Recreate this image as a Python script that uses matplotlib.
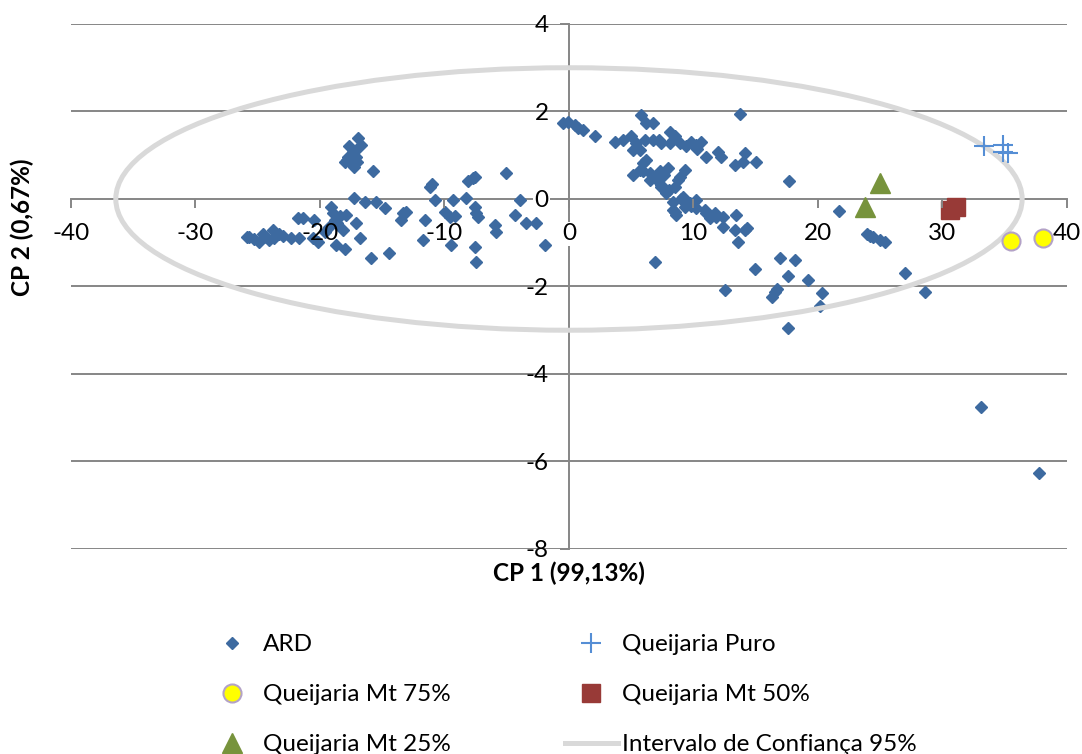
import matplotlib
matplotlib.use("Agg")
import matplotlib.pyplot as plt
from matplotlib.patches import Ellipse
from matplotlib.lines import Line2D

plt.rcParams['font.family'] = ['Lato', 'DejaVu Sans']
plt.rcParams['axes.unicode_minus'] = False

# ARD scores (CP1, CP2)
ard_x = [-25.9, -25.67, -25.27, -24.87, -24.6, -24.33, -24.06, -23.8, -23.66, -23.26,
         -23.0, -22.31, -21.65, -21.78, -21.38, -20.44, -20.58, -20.18, -19.1, -18.97,
         -18.43, -17.9, -18.83, -19.24, -18.17, -17.09, -16.82, -18.7, -18.03, -15.88,
         -14.49, -18.6, -19.6,
         -16.96, -16.69, -17.63, -17.36, -17.77, -17.09, -18.03, -17.49, -17.23, -15.76,
         -17.2, -17.8, -17.0,
         -17.23, -16.42, -15.48, -14.81, -11.0, -13.34, -13.47, -13.07, -11.6, -11.73,
         -11.2, -10.8, -9.99, -9.59, -9.32, -9.19, -9.45, -8.25, -8.12, -7.72, -7.58,
         -7.58, -7.44, -7.31, -7.58, -7.44, -5.97, -5.84, -5.03, -4.36, -3.96, -3.42,
         -2.62, -1.95,
         -0.48, -0.08, 0.46, 0.72, 1.13, 2.07, 3.67, 4.34, 5.0, 5.8, 6.2, 6.75, 5.42,
         6.08, 6.75, 5.14, 5.68, 8.09, 8.5, 7.42, 8.09, 8.9, 9.84, 10.24, 10.64, 11.04,
         11.98, 12.25, 14.12, 13.32, 13.99, 15.06, 13.72, 7.2, 9.4, 10.3,
         5.14, 5.95, 5.95, 6.49, 7.29, 7.96, 7.42, 7.83, 9.3, 8.76, 8.5, 9.16, 8.36,
         8.63, 9.7, 10.24, 10.9, 11.71, 12.38, 13.45, 11.3, 5.68, 6.49, 7.42, 8.36, 8.5,
         9.3, 10.24, 11.04, 11.85, 12.38, 13.32, 14.12, 13.59, 8.9, 14.26, 6.2, 7.0, 8.0,
         9.0, 9.8, 7.6,
         6.89, 16.94, 17.7, 21.7, 23.9, 24.4, 24.98, 25.4, 24.2, 14.93, 18.14, 17.6,
         19.2, 20.29, 20.15, 16.54, 16.27, 16.7, 12.52, 17.6, 26.98, 28.6, 33.1, 37.78]
ard_y = [-0.88, -0.86, -0.92, -0.98, -0.79, -0.86, -0.94, -0.71, -0.9, -0.79,
         -0.85, -0.9, -0.9, -0.44, -0.44, -0.48, -0.9, -0.98, -0.18, -0.33,
         -0.4, -0.37, -0.48, -0.63, -0.71, -0.56, -0.9, -1.05, -1.15, -1.36,
         -1.24, -0.55, -0.75,
         1.39, 1.24, 1.2, 1.08, 0.97, 0.97, 0.85, 0.82, 0.74, 0.63,
         1.1, 0.9, 0.85,
         0.02, -0.06, -0.06, -0.21, 0.35, -0.33, -0.48, -0.29, -0.48, -0.94,
         0.28, -0.02, -0.29, -0.41, -0.02, -0.4, -1.05, 0.02, 0.4, 0.47, 0.51,
         -0.18, -0.33, -0.41, -1.09, -1.44, -0.6, -0.75, 0.59, -0.37, -0.02, -0.56,
         -0.56, -1.05,
         1.73, 1.77, 1.7, 1.62, 1.58, 1.43, 1.31, 1.35, 1.43, 1.92, 1.73, 1.73, 1.28,
         1.35, 1.35, 1.12, 1.12, 1.54, 1.43, 1.28, 1.28, 1.28, 1.31, 1.24, 1.31, 0.97,
         1.08, 0.97, 1.06, 0.78, 0.85, 0.85, 1.95, 1.35, 1.2, 1.15,
         0.55, 0.82, 0.63, 0.44, 0.63, 0.7, 0.28, 0.13, 0.66, 0.44, 0.28, 0.05, -0.25,
         -0.37, -0.1, -0.02, -0.25, -0.33, -0.41, -0.37, -0.44, 0.66, 0.59, 0.32, -0.06, -0.29,
         -0.18, -0.21, -0.33, -0.41, -0.63, -0.71, -0.71, -0.98, 0.51, -0.67, 0.9, 0.45, 0.2,
         0.0, -0.15, 0.55,
         -1.44, -1.36, 0.4, -0.27, -0.79, -0.86, -0.94, -0.98, -0.85, -1.59, -1.4, -1.76,
         -1.86, -2.16, -2.45, -2.12, -2.24, -2.05, -2.08, -2.94, -1.7, -2.12, -4.76, -6.27]

puro_x = [33.3, 34.9, 35.3, 34.9]
puro_y = [1.2, 1.24, 1.05, 1.08]
mt75_x = [35.5, 38.1]
mt75_y = [-0.95, -0.9]
mt50_x = [30.6, 31.1]
mt50_y = [-0.25, -0.18]
mt25_x = [23.8, 25.0]
mt25_y = [-0.18, 0.36]

# 95% confidence ellipse
ell_center = (0, 0)
ell_width = 72.8
ell_height = 6.0

x_ticks = list(range(-40, 41, 10))
y_ticks = list(range(-8, 5, 2))

grid_color = '#868686'
fs = 17.5

fig = plt.figure(figsize=(10.82, 7.54), dpi=100)
ax = fig.add_axes([0.0656, 0.2719, 0.9205, 0.6963])
ax.set_xlim(-40, 40)
ax.set_ylim(-8, 4)

# axes crossing at the origin
ax.spines['left'].set_position(('data', 0))
ax.spines['bottom'].set_position(('data', 0))
ax.spines['top'].set_visible(False)
ax.spines['right'].set_visible(False)
for s in ['left', 'bottom']:
    ax.spines[s].set_color(grid_color)
    ax.spines[s].set_linewidth(1.4)
    ax.spines[s].set_zorder(0.4)

ax.set_xticks(x_ticks)
ax.set_yticks(y_ticks)
ax.tick_params(axis='both', direction='out', length=6.5, width=1.4,
               color=grid_color, labelsize=fs)
ax.tick_params(axis='x', pad=11)
ax.tick_params(axis='y', pad=8)
ax.xaxis.set_zorder(5)
ax.yaxis.set_zorder(5)
for yv in y_ticks:
    if yv != 0:
        ax.axhline(yv, color=grid_color, lw=1.4, zorder=0.3)

# the two "0" labels sit on the axis lines
ax.xaxis.get_major_ticks()[x_ticks.index(0)].label1.set_bbox(
    dict(facecolor='white', edgecolor='none', pad=1))
ax.yaxis.get_major_ticks()[y_ticks.index(0)].label1.set_bbox(
    dict(facecolor='white', edgecolor='none', pad=1))

ax.plot(ard_x, ard_y, 'D', color='#3D6AA0', ms=6.2, zorder=2, label='ARD')
ax.add_patch(Ellipse(ell_center, ell_width, ell_height, fill=False,
                     edgecolor='#D9D9D9', lw=3.6, zorder=3))
ax.plot(puro_x, puro_y, '+', color='#558ED5', ms=15, mew=1.5, zorder=4,
        label='Queijaria Puro')
ax.plot(mt75_x, mt75_y, 'o', mfc='#FFFF00', mec='#B3A2C7', mew=1.5, ms=13,
        zorder=4, label='Queijaria Mt 75%')
ax.plot(mt50_x, mt50_y, 's', color='#983A37', ms=13, zorder=4,
        label='Queijaria Mt 50%')
ax.plot(mt25_x, mt25_y, '^', color='#77933C', ms=15, zorder=4,
        label='Queijaria Mt 25%')

fig.text(0.526, 0.240, 'CP 1 (99,13%)', ha='center', va='center',
         fontsize=fs, fontweight='bold')
fig.text(0.0203, 0.699, 'CP 2 (0,67%)', ha='center', va='center',
         rotation=90, fontsize=fs, fontweight='bold')

h = {l.get_label(): l for l in ax.get_lines()}
ci = Line2D([], [], color='#D9D9D9', lw=3.6)
handles = [h['ARD'], h['Queijaria Mt 75%'], h['Queijaria Mt 25%'],
           h['Queijaria Puro'], h['Queijaria Mt 50%'], ci]
labels = ['ARD', 'Queijaria Mt 75%', 'Queijaria Mt 25%',
          'Queijaria Puro', 'Queijaria Mt 50%', 'Intervalo de Confiança 95%']
fig.legend(handles, labels, ncol=2, loc='upper left',
           bbox_to_anchor=(206 / 1082, 1 - 634 / 754), frameon=False,
           fontsize=fs, handlelength=2.18, handletextpad=0.16,
           columnspacing=4.7, labelspacing=1.2, borderpad=0, borderaxespad=0)

fig.savefig('out.png', dpi=100)
